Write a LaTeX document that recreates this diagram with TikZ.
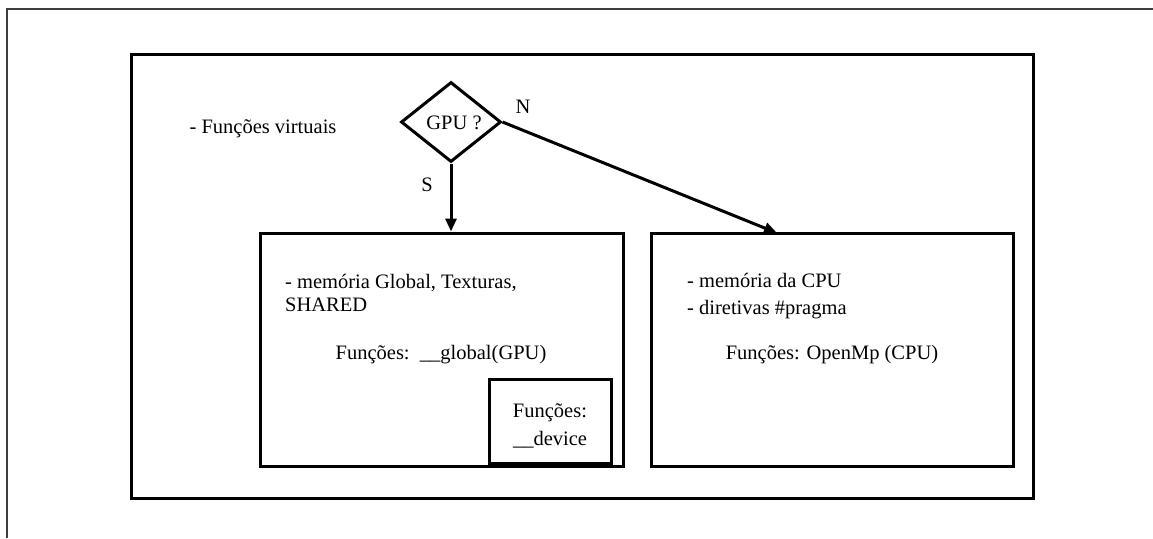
\documentclass[tikz,border=0pt]{standalone}
\usepackage{fontspec}
\setmainfont{Liberation Serif}
\usetikzlibrary{arrows.meta,shapes.geometric}
\begin{document}
\begin{tikzpicture}[x=1pt,y=-1pt,
  box/.style={draw=black,line width=3pt,inner sep=0pt},
  lbl/.style={font=\fontsize{20.5}{24}\selectfont,inner sep=0pt},
  conn/.style={line width=3pt,-{Triangle[length=13pt,width=11pt]}},
  frame/.style={draw=black!75,line width=1.5pt}]
\useasboundingbox (0,0) rectangle (1153,538);
% thin frame
\coordinate (fa) at (7,538);
\coordinate (fb) at (7,9);
\coordinate (fc) at (1153,9);
\draw[frame] (fa) -- (fb) -- (fc);
% outer box
\node[box,minimum width=902pt,minimum height=444pt] (outer) at (582.5,276.5) {};
% diamond
\node[box,diamond,minimum width=100pt,minimum height=80pt,aspect=1.25] (dec) at (451,122) {};
\node[lbl] (gpu) at (454,123) {GPU ?};
\node[lbl] (virt) at (263,129) {- Funções virtuais};
\node[lbl] (n) at (523,107) {N};
\node[lbl] (s) at (427,185) {S};
% boxes
\node[box,minimum width=363pt,minimum height=233pt] (gbox) at (441.5,349.5) {};
\node[box,minimum width=362pt,minimum height=233pt] (cbox) at (832,349.5) {};
\node[box,minimum width=122pt,minimum height=84pt] (dbox) at (550,421) {};
% left box texts
\node[lbl,anchor=west] (g1) at (285,283) {- memória Global, Texturas,};
\node[lbl,anchor=west] (g2) at (285,305) {SHARED};
\node[lbl] (g3) at (441,355) {Funções:\ \ \_\_global(GPU)};
\node[lbl] (d1) at (550,413) {Funções:};
\node[lbl] (d2) at (550,440) {\_\_device};
% right box texts
\node[lbl,anchor=west] (c1) at (687,280) {- memória da CPU};
\node[lbl,anchor=west] (c2) at (687,310) {- diretivas \#pragma};
\node[lbl] (c3) at (832,355) {Funções: OpenMp (CPU)};
% arrows
\coordinate (ct) at (777,233);
\draw[conn] (dec.south) -- (gbox.north -| dec.south);
\draw[conn] (dec.east) -- (ct);
\end{tikzpicture}
\end{document}
